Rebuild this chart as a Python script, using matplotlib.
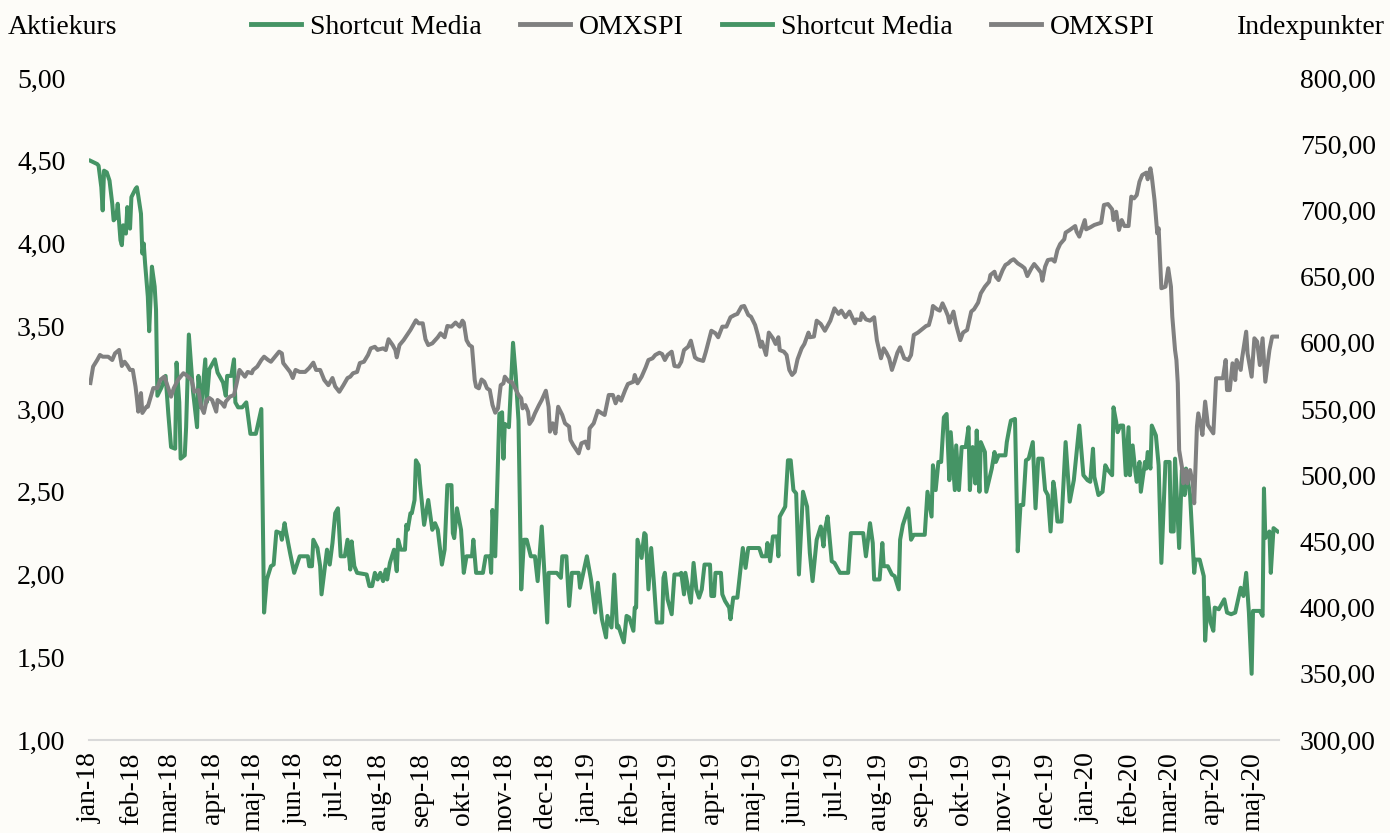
import matplotlib
matplotlib.use("Agg")
import matplotlib.pyplot as plt
import pandas as pd
from matplotlib.lines import Line2D
from matplotlib.ticker import FuncFormatter, MultipleLocator

plt.rcParams['font.family'] = ['Liberation Serif', 'DejaVu Serif']

# -----------------------------------------------------------------------------
# Data
# -----------------------------------------------------------------------------
series_names = ["Shortcut Media", "OMXSPI"]

month_labels = ["jan-18", "feb-18", "mar-18", "apr-18", "maj-18", "jun-18", "jul-18",
                "aug-18", "sep-18", "okt-18", "nov-18", "dec-18",
                "jan-19", "feb-19", "mar-19", "apr-19", "maj-19", "jun-19", "jul-19",
                "aug-19", "sep-19", "okt-19", "nov-19", "dec-19",
                "jan-20", "feb-20", "mar-20", "apr-20", "maj-20"]

# Shortcut Media share price (left axis, SEK)
sm_dates = [
    "2018-01-02", "2018-01-07", "2018-01-08", "2018-01-10", "2018-01-11", "2018-01-12", "2018-01-14",
    "2018-01-16", "2018-01-18", "2018-01-19", "2018-01-21", "2018-01-22", "2018-01-24", "2018-01-25",
    "2018-01-26", "2018-01-28", "2018-01-29", "2018-01-31", "2018-02-01", "2018-02-04", "2018-02-05",
    "2018-02-06", "2018-02-08", "2018-02-09", "2018-02-10", "2018-02-11", "2018-02-13", "2018-02-14",
    "2018-02-16", "2018-02-18", "2018-02-19", "2018-02-20", "2018-02-23", "2018-02-26", "2018-02-28",
    "2018-03-02", "2018-03-05", "2018-03-06", "2018-03-08", "2018-03-09", "2018-03-12", "2018-03-13",
    "2018-03-15", "2018-03-18", "2018-03-21", "2018-03-22", "2018-03-24", "2018-03-27", "2018-03-28",
    "2018-03-30", "2018-04-03", "2018-04-05", "2018-04-09", "2018-04-11", "2018-04-12", "2018-04-15",
    "2018-04-17", "2018-04-18", "2018-04-20", "2018-04-23", "2018-04-26", "2018-04-29", "2018-05-03",
    "2018-05-07", "2018-05-09", "2018-05-11", "2018-05-14", "2018-05-16", "2018-05-18", "2018-05-21",
    "2018-05-22", "2018-05-24", "2018-05-25", "2018-05-28", "2018-05-31", "2018-06-04", "2018-06-10",
    "2018-06-11", "2018-06-13", "2018-06-14", "2018-06-17", "2018-06-19", "2018-06-20", "2018-06-24",
    "2018-06-26", "2018-06-28", "2018-06-30", "2018-07-02", "2018-07-04", "2018-07-07", "2018-07-09",
    "2018-07-11", "2018-07-12", "2018-07-14", "2018-07-16", "2018-07-23", "2018-07-25", "2018-07-27",
    "2018-07-29", "2018-07-31", "2018-08-02", "2018-08-04", "2018-08-06", "2018-08-07", "2018-08-09",
    "2018-08-12", "2018-08-14", "2018-08-15", "2018-08-17", "2018-08-20", "2018-08-21", "2018-08-22",
    "2018-08-24", "2018-08-25", "2018-08-27", "2018-08-28", "2018-08-30", "2018-08-31", "2018-09-03",
    "2018-09-06", "2018-09-09", "2018-09-11", "2018-09-13", "2018-09-16", "2018-09-18", "2018-09-20",
    "2018-09-23", "2018-09-24", "2018-09-25", "2018-09-27", "2018-09-30", "2018-10-02", "2018-10-04",
    "2018-10-08", "2018-10-09", "2018-10-11", "2018-10-16", "2018-10-18", "2018-10-21", "2018-10-22",
    "2018-10-23", "2018-10-25", "2018-10-28", "2018-10-30", "2018-10-31", "2018-11-01", "2018-11-04",
    "2018-11-07", "2018-11-09", "2018-11-11", "2018-11-13", "2018-11-15", "2018-11-17", "2018-11-20",
    "2018-11-23", "2018-11-25", "2018-11-28", "2018-12-02", "2018-12-03", "2018-12-09", "2018-12-12",
    "2018-12-13", "2018-12-16", "2018-12-18", "2018-12-20", "2018-12-25", "2018-12-26", "2018-12-31",
    "2019-01-03", "2019-01-06", "2019-01-08", "2019-01-11", "2019-01-14", "2019-01-15", "2019-01-18",
    "2019-01-20", "2019-01-22", "2019-01-23", "2019-01-27", "2019-01-29", "2019-01-31", "2019-02-03",
    "2019-02-04", "2019-02-05", "2019-02-06", "2019-02-09", "2019-02-11", "2019-02-12", "2019-02-14",
    "2019-02-16", "2019-02-18", "2019-02-20", "2019-02-24", "2019-02-25", "2019-02-26", "2019-02-28",
    "2019-03-03", "2019-03-05", "2019-03-09", "2019-03-10", "2019-03-12", "2019-03-13", "2019-03-17",
    "2019-03-19", "2019-03-21", "2019-03-23", "2019-03-25", "2019-03-27", "2019-03-31", "2019-04-01",
    "2019-04-03", "2019-04-04", "2019-04-08", "2019-04-09", "2019-04-11", "2019-04-14", "2019-04-15",
    "2019-04-17", "2019-04-20", "2019-04-22", "2019-04-24", "2019-04-26", "2019-04-28", "2019-05-06",
    "2019-05-08", "2019-05-11", "2019-05-12", "2019-05-14", "2019-05-16", "2019-05-19", "2019-05-20",
    "2019-05-21", "2019-05-25", "2019-05-27", "2019-05-29", "2019-05-31", "2019-06-02", "2019-06-04",
    "2019-06-07", "2019-06-10", "2019-06-12", "2019-06-14", "2019-06-17", "2019-06-20", "2019-06-22",
    "2019-06-23", "2019-06-25", "2019-06-27", "2019-06-28", "2019-06-30", "2019-07-04", "2019-07-10",
    "2019-07-12", "2019-07-21", "2019-07-23", "2019-07-26", "2019-07-28", "2019-07-29", "2019-08-02",
    "2019-08-04", "2019-08-05", "2019-08-08", "2019-08-11", "2019-08-13", "2019-08-16", "2019-08-17",
    "2019-08-19", "2019-08-21", "2019-08-23", "2019-08-25", "2019-08-27", "2019-09-04", "2019-09-06",
    "2019-09-09", "2019-09-10", "2019-09-12", "2019-09-14", "2019-09-16", "2019-09-18", "2019-09-20",
    "2019-09-22", "2019-09-23", "2019-09-26", "2019-09-27", "2019-09-29", "2019-10-01", "2019-10-04",
    "2019-10-06", "2019-10-07", "2019-10-09", "2019-10-11", "2019-10-12", "2019-10-14", "2019-10-15",
    "2019-10-18", "2019-10-19", "2019-10-21", "2019-10-23", "2019-10-25", "2019-10-26", "2019-10-28",
    "2019-11-02", "2019-11-03", "2019-11-05", "2019-11-06", "2019-11-09", "2019-11-11", "2019-11-13",
    "2019-11-15", "2019-11-17", "2019-11-19", "2019-11-22", "2019-11-24", "2019-11-26", "2019-11-29",
    "2019-12-01", "2019-12-03", "2019-12-05", "2019-12-07", "2019-12-08", "2019-12-10", "2019-12-13",
    "2019-12-16", "2019-12-19", "2019-12-22", "2019-12-26", "2019-12-29", "2020-01-01", "2020-01-03",
    "2020-01-05", "2020-01-06", "2020-01-09", "2020-01-12", "2020-01-14", "2020-01-16", "2020-01-19",
    "2020-01-20", "2020-01-22", "2020-01-23", "2020-01-25", "2020-01-27", "2020-01-29", "2020-01-31",
    "2020-02-01", "2020-02-03", "2020-02-05", "2020-02-06", "2020-02-08", "2020-02-09", "2020-02-12",
    "2020-02-13", "2020-02-14", "2020-02-16", "2020-02-17", "2020-02-20", "2020-02-22", "2020-02-24",
    "2020-02-27", "2020-03-01", "2020-03-02", "2020-03-04", "2020-03-05", "2020-03-08", "2020-03-10",
    "2020-03-12", "2020-03-13", "2020-03-16", "2020-03-19", "2020-03-20", "2020-03-23", "2020-03-26",
    "2020-03-27", "2020-03-29", "2020-03-31", "2020-04-02", "2020-04-03", "2020-04-06", "2020-04-10",
    "2020-04-12", "2020-04-15", "2020-04-18", "2020-04-22", "2020-04-24", "2020-04-26", "2020-04-28",
    "2020-04-30", "2020-05-01", "2020-05-06", "2020-05-08", "2020-05-09", "2020-05-10", "2020-05-13",
    "2020-05-14", "2020-05-16", "2020-05-19",
]
sm_values = [
    4.50, 4.48, 4.47, 4.34, 4.20, 4.44, 4.43, 4.38, 4.24, 4.14, 4.16, 4.24, 4.02, 3.99,
    4.11, 4.06, 4.22, 4.09, 4.28, 4.33, 4.34, 4.29, 4.18, 3.94, 4.00, 3.88, 3.68, 3.47,
    3.86, 3.74, 3.60, 3.08, 3.13, 3.20, 2.97, 2.77, 2.76, 3.28, 3.04, 2.70, 2.72, 2.89,
    3.45, 3.11, 2.89, 3.20, 3.01, 3.30, 3.04, 3.24, 3.30, 3.22, 3.16, 3.08, 3.20, 3.20,
    3.30, 3.04, 3.01, 3.01, 3.04, 2.85, 2.85, 3.00, 1.77, 1.97, 2.05, 2.06, 2.26, 2.25,
    2.21, 2.31, 2.26, 2.13, 2.01, 2.11, 2.11, 2.05, 2.05, 2.21, 2.16, 2.05, 1.88, 2.15,
    2.06, 2.19, 2.37, 2.40, 2.11, 2.11, 2.21, 2.03, 2.20, 2.05, 2.01, 2.00, 1.93, 1.93,
    2.01, 1.97, 2.01, 1.96, 2.03, 1.97, 2.07, 2.15, 2.02, 2.21, 2.15, 2.15, 2.30, 2.27,
    2.37, 2.37, 2.45, 2.69, 2.66, 2.55, 2.30, 2.45, 2.27, 2.31, 2.27, 2.06, 2.15, 2.54,
    2.54, 2.25, 2.22, 2.40, 2.27, 2.01, 2.11, 2.11, 2.21, 2.01, 2.01, 2.11, 2.11, 2.01,
    2.39, 2.11, 2.97, 2.98, 2.70, 2.91, 2.89, 3.40, 3.20, 2.93, 1.91, 2.21, 2.21, 2.11,
    2.11, 1.96, 2.29, 1.71, 2.01, 2.01, 1.98, 2.11, 2.11, 1.81, 2.01, 2.01, 1.92, 2.11,
    1.97, 1.77, 1.95, 1.73, 1.62, 1.75, 1.68, 2.00, 1.68, 1.69, 1.59, 1.75, 1.74, 1.66,
    1.80, 1.80, 2.21, 2.10, 2.25, 2.24, 1.91, 2.16, 1.95, 1.71, 1.71, 1.98, 2.01, 1.85,
    1.76, 2.00, 2.00, 2.01, 1.88, 2.01, 1.83, 2.07, 1.91, 1.86, 1.91, 2.06, 2.06, 1.87,
    1.87, 2.01, 2.01, 1.88, 1.84, 1.80, 1.73, 1.86, 1.86, 2.01, 2.16, 2.04, 2.16, 2.16,
    2.11, 2.11, 2.19, 2.08, 2.23, 2.23, 2.11, 2.35, 2.41, 2.69, 2.69, 2.51, 2.49, 2.00,
    2.50, 2.41, 2.13, 1.96, 2.21, 2.29, 2.17, 2.27, 2.35, 2.17, 2.08, 2.07, 2.01, 2.01,
    2.25, 2.25, 2.11, 2.31, 2.19, 1.97, 1.97, 2.19, 2.05, 2.05, 2.00, 1.99, 1.91, 2.21,
    2.30, 2.35, 2.40, 2.21, 2.24, 2.24, 2.50, 2.35, 2.66, 2.51, 2.68, 2.68, 2.95, 2.97,
    2.57, 2.86, 2.51, 2.78, 2.51, 2.77, 2.77, 2.89, 2.51, 2.77, 2.55, 2.87, 2.50, 2.80,
    2.74, 2.50, 2.57, 2.64, 2.74, 2.68, 2.72, 2.72, 2.80, 2.89, 2.93, 2.94, 2.14, 2.42,
    2.42, 2.69, 2.70, 2.80, 2.40, 2.70, 2.70, 2.51, 2.48, 2.26, 2.56, 2.51, 2.32, 2.32,
    2.80, 2.44, 2.57, 2.90, 2.60, 2.57, 2.56, 2.76, 2.59, 2.48, 2.50, 2.66, 2.63, 2.60,
    3.01, 2.92, 2.86, 2.90, 2.90, 2.60, 2.89, 2.60, 2.78, 2.62, 2.56, 2.68, 2.50, 2.68,
    2.64, 2.74, 2.64, 2.90, 2.84, 2.66, 2.07, 2.68, 2.68, 2.26, 2.26, 2.70, 2.16, 2.63,
    2.48, 2.64, 2.48, 2.01, 2.09, 2.09, 1.99, 1.60, 1.86, 1.71, 1.66, 1.80, 1.79, 1.85,
    1.77, 1.76, 1.77, 1.92, 1.87, 2.01, 1.77, 1.40, 1.78, 1.78, 1.75, 2.52, 2.22, 2.26,
    2.01, 2.28, 2.26,
]

# OMXSPI index (right axis, index points)
omx_dates = [
    "2018-01-02", "2018-01-04", "2018-01-07", "2018-01-09", "2018-01-11", "2018-01-15", "2018-01-18",
    "2018-01-20", "2018-01-23", "2018-01-25", "2018-01-27", "2018-01-29", "2018-01-31", "2018-02-02",
    "2018-02-04", "2018-02-05", "2018-02-06", "2018-02-08", "2018-02-09", "2018-02-12", "2018-02-13",
    "2018-02-17", "2018-02-20", "2018-02-22", "2018-02-25", "2018-02-26", "2018-03-02", "2018-03-04",
    "2018-03-07", "2018-03-11", "2018-03-13", "2018-03-17", "2018-03-19", "2018-03-22", "2018-03-24",
    "2018-03-26", "2018-03-28", "2018-03-30", "2018-04-01", "2018-04-04", "2018-04-05", "2018-04-08",
    "2018-04-10", "2018-04-11", "2018-04-14", "2018-04-17", "2018-04-19", "2018-04-21", "2018-04-25",
    "2018-04-27", "2018-04-30", "2018-05-01", "2018-05-04", "2018-05-07", "2018-05-09", "2018-05-12",
    "2018-05-14", "2018-05-17", "2018-05-20", "2018-05-22", "2018-05-23", "2018-05-25", "2018-05-28",
    "2018-05-30", "2018-06-01", "2018-06-04", "2018-06-08", "2018-06-11", "2018-06-14", "2018-06-16",
    "2018-06-19", "2018-06-22", "2018-06-25", "2018-06-28", "2018-06-30", "2018-07-03", "2018-07-06",
    "2018-07-09", "2018-07-11", "2018-07-13", "2018-07-16", "2018-07-18", "2018-07-21", "2018-07-24",
    "2018-07-26", "2018-07-29", "2018-07-31", "2018-08-01", "2018-08-04", "2018-08-06", "2018-08-08",
    "2018-08-11", "2018-08-13", "2018-08-14", "2018-08-16", "2018-08-19", "2018-08-22", "2018-08-24",
    "2018-08-28", "2018-08-30", "2018-09-02", "2018-09-04", "2018-09-06", "2018-09-09", "2018-09-13",
    "2018-09-15", "2018-09-18", "2018-09-20", "2018-09-23", "2018-09-26", "2018-09-29", "2018-10-01",
    "2018-10-02", "2018-10-04", "2018-10-06", "2018-10-08", "2018-10-10", "2018-10-11", "2018-10-13",
    "2018-10-15", "2018-10-17", "2018-10-19", "2018-10-21", "2018-10-23", "2018-10-25", "2018-10-27",
    "2018-10-29", "2018-10-31", "2018-11-01", "2018-11-04", "2018-11-06", "2018-11-08", "2018-11-11",
    "2018-11-13", "2018-11-14", "2018-11-16", "2018-11-18", "2018-11-19", "2018-11-21", "2018-11-23",
    "2018-11-26", "2018-11-28", "2018-12-01", "2018-12-03", "2018-12-04", "2018-12-06", "2018-12-08",
    "2018-12-10", "2018-12-13", "2018-12-15", "2018-12-18", "2018-12-19", "2018-12-21", "2018-12-25",
    "2018-12-27", "2018-12-30", "2019-01-01", "2019-01-02", "2019-01-05", "2019-01-08", "2019-01-11",
    "2019-01-13", "2019-01-16", "2019-01-19", "2019-01-21", "2019-01-23", "2019-01-25", "2019-01-28",
    "2019-01-30", "2019-02-03", "2019-02-04", "2019-02-06", "2019-02-09", "2019-02-12", "2019-02-14",
    "2019-02-17", "2019-02-19", "2019-02-22", "2019-02-24", "2019-02-26", "2019-02-28", "2019-03-03",
    "2019-03-05", "2019-03-08", "2019-03-10", "2019-03-12", "2019-03-15", "2019-03-17", "2019-03-20",
    "2019-03-22", "2019-03-26", "2019-03-28", "2019-04-01", "2019-04-04", "2019-04-06", "2019-04-09",
    "2019-04-12", "2019-04-15", "2019-04-18", "2019-04-20", "2019-04-23", "2019-04-25", "2019-04-28",
    "2019-04-30", "2019-05-03", "2019-05-05", "2019-05-07", "2019-05-08", "2019-05-11", "2019-05-13",
    "2019-05-16", "2019-05-18", "2019-05-20", "2019-05-21", "2019-05-24", "2019-05-26", "2019-05-28",
    "2019-05-30", "2019-06-01", "2019-06-03", "2019-06-06", "2019-06-08", "2019-06-11", "2019-06-12",
    "2019-06-15", "2019-06-17", "2019-06-20", "2019-06-23", "2019-06-27", "2019-06-30", "2019-07-03",
    "2019-07-05", "2019-07-08", "2019-07-11", "2019-07-15", "2019-07-16", "2019-07-19", "2019-07-20",
    "2019-07-23", "2019-07-26", "2019-07-29", "2019-07-30", "2019-07-31", "2019-08-03", "2019-08-05",
    "2019-08-07", "2019-08-09", "2019-08-11", "2019-08-13", "2019-08-15", "2019-08-17", "2019-08-20",
    "2019-08-23", "2019-08-25", "2019-08-27", "2019-08-30", "2019-09-02", "2019-09-05", "2019-09-07",
    "2019-09-09", "2019-09-10", "2019-09-13", "2019-09-15", "2019-09-17", "2019-09-19", "2019-09-21",
    "2019-09-22", "2019-09-25", "2019-09-27", "2019-09-30", "2019-10-02", "2019-10-05", "2019-10-08",
    "2019-10-10", "2019-10-13", "2019-10-15", "2019-10-18", "2019-10-21", "2019-10-22", "2019-10-25",
    "2019-10-26", "2019-10-28", "2019-10-31", "2019-11-02", "2019-11-04", "2019-11-06", "2019-11-08",
    "2019-11-11", "2019-11-14", "2019-11-16", "2019-11-18", "2019-11-21", "2019-11-23", "2019-11-25",
    "2019-11-28", "2019-11-29", "2019-12-01", "2019-12-03", "2019-12-06", "2019-12-08", "2019-12-10",
    "2019-12-12", "2019-12-15", "2019-12-16", "2019-12-19", "2019-12-23", "2019-12-24", "2019-12-26",
    "2019-12-28", "2019-12-30", "2019-12-31", "2020-01-03", "2020-01-06", "2020-01-08", "2020-01-11",
    "2020-01-13", "2020-01-16", "2020-01-19", "2020-01-20", "2020-01-22", "2020-01-24", "2020-01-26",
    "2020-01-28", "2020-01-31", "2020-02-02", "2020-02-04", "2020-02-06", "2020-02-08", "2020-02-10",
    "2020-02-13", "2020-02-14", "2020-02-16", "2020-02-17", "2020-02-19", "2020-02-21", "2020-02-22",
    "2020-02-24", "2020-02-27", "2020-02-29", "2020-03-02", "2020-03-03", "2020-03-05", "2020-03-06",
    "2020-03-07", "2020-03-08", "2020-03-10", "2020-03-11", "2020-03-13", "2020-03-14", "2020-03-16",
    "2020-03-18", "2020-03-19", "2020-03-21", "2020-03-22", "2020-03-24", "2020-03-25", "2020-03-27",
    "2020-03-29", "2020-04-02", "2020-04-04", "2020-04-09", "2020-04-11", "2020-04-12", "2020-04-14",
    "2020-04-16", "2020-04-18", "2020-04-19", "2020-04-22", "2020-04-23", "2020-04-26", "2020-04-27",
    "2020-04-30", "2020-05-02", "2020-05-04", "2020-05-06", "2020-05-08", "2020-05-10", "2020-05-13",
    "2020-05-15", "2020-05-19",
]
omx_values = [
    569.6, 582.0, 587.0, 590.8, 589.5, 589.5, 587.0, 592.0, 594.6, 582.5, 585.7, 583.0, 579.5, 579.5,
    567.0, 558.3, 548.0, 562.0, 547.0, 551.7, 551.7, 565.8, 565.8, 571.9, 574.4, 571.9, 559.3, 565.8,
    571.9, 577.0, 575.7, 571.9, 563.0, 564.3, 551.7, 547.0, 556.8, 558.3, 556.8, 548.0, 556.8, 554.5,
    551.7, 555.6, 559.3, 560.6, 569.6, 579.5, 574.4, 578.0, 577.0, 579.5, 582.0, 587.0, 589.5, 587.0,
    585.7, 589.5, 593.3, 592.0, 584.7, 582.0, 578.0, 573.4, 579.5, 578.0, 578.0, 581.0, 585.0, 579.5,
    579.5, 571.9, 568.0, 573.4, 567.0, 563.0, 568.0, 573.4, 574.4, 577.0, 578.0, 584.7, 585.7, 590.8,
    595.8, 597.0, 594.6, 595.0, 595.8, 594.5, 602.7, 598.3, 594.5, 589.0, 598.3, 602.0, 606.6, 609.7,
    617.0, 614.7, 614.7, 602.7, 598.3, 599.6, 604.2, 607.2, 604.2, 612.7, 612.2, 615.3, 612.2, 616.7,
    615.3, 602.0, 598.3, 597.0, 571.9, 566.8, 565.6, 572.3, 570.6, 565.6, 564.3, 553.0, 547.2, 550.5,
    568.0, 569.4, 574.4, 570.6, 570.6, 566.8, 560.6, 558.1, 550.5, 553.0, 548.0, 538.7, 541.7, 546.7,
    553.0, 556.8, 563.8, 551.7, 532.9, 539.2, 531.6, 551.7, 545.5, 539.2, 536.7, 526.6, 522.8, 516.5,
    524.1, 525.4, 520.3, 535.4, 539.2, 548.7, 546.7, 545.5, 560.6, 560.6, 554.3, 559.3, 556.3, 564.3,
    568.9, 570.6, 575.7, 569.4, 574.4, 581.5, 587.0, 588.3, 590.8, 592.5, 591.5, 587.0, 590.8, 593.3,
    582.5, 582.0, 585.7, 594.5, 597.0, 601.6, 589.0, 587.5, 586.3, 593.3, 609.1, 607.2, 604.2, 612.2,
    612.2, 619.3, 621.0, 621.8, 627.3, 627.8, 621.0, 619.7, 613.4, 605.9, 597.0, 600.9, 590.8, 607.7,
    603.4, 599.1, 604.2, 594.5, 593.3, 590.8, 579.5, 575.7, 578.0, 587.5, 595.8, 599.1, 607.7, 604.2,
    604.7, 616.7, 614.2, 609.1, 616.7, 626.0, 621.8, 624.3, 619.3, 623.6, 614.7, 617.7, 617.2, 622.3,
    617.7, 616.7, 619.3, 610.9, 602.0, 588.3, 595.8, 592.5, 588.3, 579.5, 585.7, 592.5, 596.6, 588.3,
    587.0, 590.8, 605.9, 607.7, 610.2, 612.7, 613.4, 621.0, 627.8, 625.3, 624.3, 629.8, 625.3, 620.3,
    615.3, 623.6, 613.4, 602.0, 607.7, 609.7, 623.6, 625.3, 630.3, 637.4, 642.4, 646.1, 651.2, 653.7,
    649.9, 647.4, 655.0, 658.8, 660.0, 662.0, 663.1, 660.0, 658.0, 656.3, 650.4, 656.3, 659.5, 657.0,
    653.0, 646.9, 657.5, 662.5, 663.1, 661.3, 670.1, 674.6, 678.2, 683.2, 685.2, 688.2, 684.0, 680.2,
    686.5, 692.7, 685.7, 687.2, 689.0, 689.7, 690.7, 704.1, 704.8, 700.8, 692.7, 699.0, 685.2, 692.7,
    688.2, 688.2, 710.4, 709.1, 711.6, 721.7, 726.7, 728.5, 723.5, 731.8, 725.5, 707.8, 682.7, 686.5,
    641.2, 642.4, 656.3, 642.4, 619.7, 594.5, 587.0, 569.4, 519.0, 506.4, 493.9, 503.9, 493.9, 503.9,
    493.9, 478.8, 536.7, 546.7, 536.7, 530.4, 555.6, 537.9, 531.6, 573.2, 573.2, 587.0, 564.3, 564.3,
    584.5, 571.9, 587.0, 579.5, 588.3, 608.4, 592.0, 574.4, 603.4, 600.9, 583.2, 603.4, 570.6, 594.5,
    604.7, 604.7,
]

# -----------------------------------------------------------------------------
# Styling
# -----------------------------------------------------------------------------
bg_color = "#FDFCF8"
green = "#459465"
grey = "#808080"
font_size = 20

sm_x = pd.to_datetime(sm_dates)
omx_x = pd.to_datetime(omx_dates)
month_ticks = pd.date_range("2018-01-01", periods=len(month_labels), freq="MS")


def comma_fmt(v, pos):
    return f"{v:.2f}".replace(".", ",")


fig = plt.figure(figsize=(13.9, 8.33), dpi=100, facecolor=bg_color)
ax = fig.add_axes([89 / 1390, 1 - 740 / 833, (1279 - 89) / 1390, (740 - 78) / 833])
ax.set_facecolor(bg_color)
ax2 = ax.twinx()

ax.plot(sm_x, sm_values, color=green, lw=2.9, solid_joinstyle="round")
ax2.plot(omx_x, omx_values, color=grey, lw=2.9, solid_joinstyle="round")

ax.set_xlim(pd.Timestamp("2018-01-01"), pd.Timestamp("2020-05-20"))
ax.set_ylim(1, 5)
ax2.set_ylim(300, 800)
ax.yaxis.set_major_locator(MultipleLocator(0.5))
ax2.yaxis.set_major_locator(MultipleLocator(50))
ax.yaxis.set_major_formatter(FuncFormatter(comma_fmt))
ax2.yaxis.set_major_formatter(FuncFormatter(comma_fmt))

ax.set_xticks(month_ticks)
ax.set_xticklabels(month_labels, rotation=90)

for a in (ax, ax2):
    for side in ("top", "left", "right"):
        a.spines[side].set_visible(False)
ax.spines["bottom"].set_color("#D9D9D9")
ax.spines["bottom"].set_linewidth(1.5)
ax2.spines["bottom"].set_visible(False)

ax.tick_params(axis="x", length=0, labelsize=font_size, pad=9)
ax.tick_params(axis="y", length=0, labelsize=font_size, pad=17)
ax2.tick_params(axis="y", length=0, labelsize=font_size, pad=15)

# axis titles at the top corners
fig.text(8 / 1390, 1 - 27 / 833, "Aktiekurs", fontsize=font_size, ha="left", va="center")
fig.text(1385 / 1390, 1 - 27 / 833, "Indexpunkter", fontsize=font_size, ha="right", va="center")

# legend shows both series twice, as in the original
handles = [Line2D([], [], color=green, lw=3.5), Line2D([], [], color=grey, lw=3.5)] * 2
labels = series_names * 2
fig.legend(handles, labels, loc="center", bbox_to_anchor=(703 / 1390, 1 - 27 / 833),
           ncol=4, frameon=False, fontsize=font_size, handlelength=1.8,
           handletextpad=0.3, columnspacing=1.4)

fig.savefig("out.png", dpi=100, facecolor=bg_color)
